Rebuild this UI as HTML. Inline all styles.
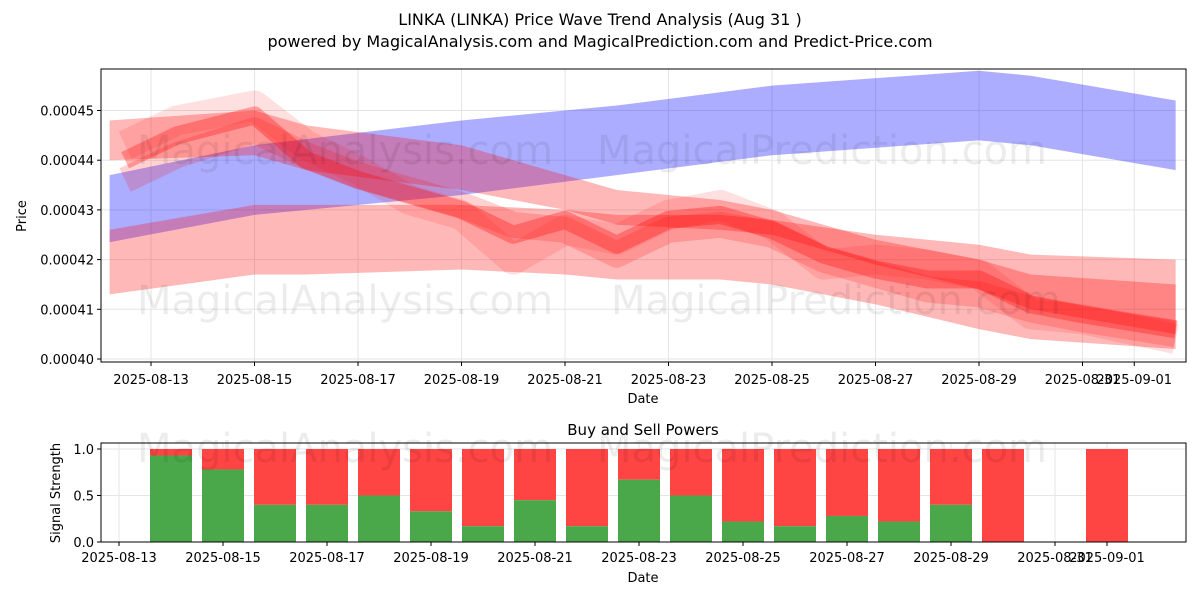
<!DOCTYPE html>
<html><head><meta charset="utf-8">
<style>
body{margin:0;background:#fff;font-family:"Liberation Sans","DejaVu Sans",sans-serif;}
svg text{font-family:"DejaVu Sans","Liberation Sans",sans-serif;fill:#000;}
</style></head>
<body>
<svg id="c" width="1200" height="600" xmlns="http://www.w3.org/2000/svg">
<text x="600" y="25" font-size="16" text-anchor="middle">LINKA (LINKA) Price Wave Trend Analysis (Aug 31 )</text>
<text x="600" y="47" font-size="16" text-anchor="middle">powered by MagicalAnalysis.com and MagicalPrediction.com and Predict-Price.com</text>
<g id="topg"></g><g id="botg"></g>
</svg>
<script>
// ---- data ----
const xTickLabels=["2025-08-13","2025-08-15","2025-08-17","2025-08-19","2025-08-21","2025-08-23","2025-08-25","2025-08-27","2025-08-29","2025-08-31","2025-09-01"];
const xTickDays=[13,15,17,19,21,23,25,27,29,31,32];
const yTickValues=[0.00040,0.00041,0.00042,0.00043,0.00044,0.00045];
const blueDays=[12.2,15,19,22,25,29,30,32.8];
const blueUpper=[0.000437,0.000443,0.000448,0.000451,0.000455,0.000458,0.000457,0.000452];
const blueLower=[0.0004235,0.000429,0.000433,0.000437,0.000441,0.000444,0.000443,0.000438];
const bandDays=[12.2,15,16,19,21,22,24,25,27,29,30,32.8];
const bandAUpper=[0.000426,0.000431,0.000431,0.000431,0.00043,0.000429,0.000429,0.000428,0.000425,0.000423,0.000421,0.00042];
const bandALower=[0.000413,0.000417,0.000417,0.000418,0.000417,0.000416,0.000416,0.000415,0.000411,0.000406,0.000404,0.000402];
const bandBUpper=[0.000448,0.00045,0.000447,0.000443,0.000437,0.000434,0.000432,0.00043,0.000424,0.00042,0.000417,0.000415];
const bandBLower=[0.000440,0.000441,0.000438,0.000434,0.00043,0.000427,0.000426,0.000425,0.000419,0.000414,0.00041,0.000405];
const waveDays=[12.5,13.5,15,16,17,18,19,20,21,22,23,24,25,26,27,28,29,30,31,32.8];
const waveMain=[0.000440,0.000445,0.000449,0.000440,0.000436,0.000433,0.000430,0.000425,0.000428,0.000423,0.000428,0.000429,0.000426,0.000421,0.000418,0.000416,0.000416,0.000411,0.000409,0.000406];
const waveAlt1=[0.000436,0.000441,0.000446,0.000441,0.000437,0.000434,0.000431,0.000427,0.000426,0.000421,0.000426,0.000427,0.000425,0.000420,0.000417,0.000414,0.000413,0.000410,0.000408,0.000405];
const waveAlt2=[0.000443,0.000448,0.000451,0.000443,0.000438,0.000432,0.000429,0.000420,0.000426,0.000424,0.000429,0.000431,0.000427,0.000419,0.000420,0.000419,0.000417,0.000409,0.000408,0.000404];
const barDays=[14,15,16,17,18,19,20,21,22,23,24,25,26,27,28,29,30,32];
const buyPower=[0.93,0.78,0.4,0.4,0.5,0.33,0.17,0.45,0.17,0.67,0.5,0.22,0.17,0.28,0.22,0.4,0,0];
const botTickDays=[13,15,17,19,21,23,25,27,29,31,32];
const botYTicks=[0,0.5,1.0];
// ---- scales ----
const NS="http://www.w3.org/2000/svg";
const X=d=>151+(d-13)*51.75;
const Y=v=>359-(v-0.0004)/0.00001*49.7;
const BX=d=>119+(d-13)*52;
const BY=v=>542-v*93;
function mk(t,a,p){const e=document.createElementNS(NS,t);for(const k in a)e.setAttribute(k,a[k]);(p||document.getElementById('c')).appendChild(e);return e;}
const topG=document.getElementById('topg'),botG=document.getElementById('botg');
// top grid & axes
xTickDays.forEach((d,i)=>{const g=mk('line',{x1:X(d),x2:X(d),y1:69,y2:362,stroke:'#e5e5e5'},topG);

const t=mk('text',{x:X(d),y:384,'font-size':13,'text-anchor':'middle'},topG);t.textContent=xTickLabels[i];

mk('line',{x1:X(d),x2:X(d),y1:362,y2:366,stroke:'#000'},topG);});
yTickValues.forEach(v=>{const g=mk('line',{x1:101,x2:1186,y1:Y(v),y2:Y(v),stroke:'#e5e5e5'},topG);

const t=mk('text',{x:94,y:Y(v)+5,'font-size':13,'text-anchor':'end'},topG);t.textContent=v.toFixed(5);

mk('line',{x1:97,x2:101,y1:Y(v),y2:Y(v),stroke:'#000'},topG);});
// watermarks
[[345,150,'MagicalAnalysis.com'],[822,150,'MagicalPrediction.com'],[345,300,'MagicalAnalysis.com'],[836,300,'MagicalPrediction.com'],[345,448,'MagicalAnalysis.com'],[822,448,'MagicalPrediction.com']].forEach(w=>{
const t=mk('text',{x:w[0],y:w[1]+14,'font-size':40,'text-anchor':'middle',style:'fill:#000;opacity:0.07'});t.textContent=w[2];
});
function band(days,up,lo,fill,op,name){let p=days.map((d,i)=>X(d)+','+Y(up[i]));
for(let i=days.length-1;i>=0;i--)p.push(X(days[i])+','+Y(lo[i]));
const e=mk('polygon',{points:p.join(' '),fill:fill,'fill-opacity':op},topG);
}
band(blueDays,blueUpper,blueLower,'#0000ff',0.32,'blue-band');
band(bandDays,bandAUpper,bandALower,'#ff0000',0.28,'red-band-lower');
band(bandDays,bandBUpper,bandBLower,'#ff0000',0.28,'red-band-upper');
function wave(days,vals,w,op,name){const e=mk('polyline',{points:days.map((d,i)=>X(d)+','+Y(vals[i])).join(' '),fill:'none',stroke:'#ff0000','stroke-opacity':op,'stroke-width':w,'stroke-linejoin':'round'},topG);
}
wave(waveDays,waveAlt2,30,0.12,'wave-alt-2');
wave(waveDays,waveAlt1,26,0.18,'wave-alt-1');
wave(waveDays,waveMain,18,0.3,'wave-main');
let fr=mk('rect',{x:101,y:69,width:1085,height:293,fill:'none',stroke:'#000'},topG);


let t=mk('text',{x:643,y:403,'font-size':13,'text-anchor':'middle'},topG);t.textContent='Date';
t=mk('text',{x:26,y:216,'font-size':13,'text-anchor':'middle',transform:'rotate(-90 26 216)'},topG);t.textContent='Price';
// bottom
botTickDays.forEach((d,i)=>{const g=mk('line',{x1:BX(d),x2:BX(d),y1:443,y2:542,stroke:'#e5e5e5'},botG);

mk('line',{x1:BX(d),x2:BX(d),y1:542,y2:546,stroke:'#000'},botG);
const t=mk('text',{x:BX(d),y:562,'font-size':13,'text-anchor':'middle'},botG);t.textContent=xTickLabels[i];
});
botYTicks.forEach(v=>{mk('line',{x1:101,x2:1186,y1:BY(v),y2:BY(v),stroke:'#e5e5e5'},botG);
mk('line',{x1:97,x2:101,y1:BY(v),y2:BY(v),stroke:'#000'},botG);
const t=mk('text',{x:94,y:BY(v)+5,'font-size':13,'text-anchor':'end'},botG);t.textContent=v.toFixed(1);
});
barDays.forEach((d,i)=>{const b=buyPower[i];
const r=mk('rect',{x:BX(d)-21,y:BY(1),width:42,height:BY(b)-BY(1),fill:'#ff4444'},botG);

const g=mk('rect',{x:BX(d)-21,y:BY(b),width:42,height:BY(0)-BY(b),fill:'#4aa84a'},botG);
});
fr=mk('rect',{x:101,y:443,width:1085,height:99,fill:'none',stroke:'#000'},botG);


t=mk('text',{x:643,y:435,'font-size':15,'text-anchor':'middle'},botG);t.textContent='Buy and Sell Powers';
t=mk('text',{x:643,y:582,'font-size':13,'text-anchor':'middle'},botG);t.textContent='Date';
t=mk('text',{x:60,y:493,'font-size':13,'text-anchor':'middle',transform:'rotate(-90 60 493)'},botG);t.textContent='Signal Strength';
</script>
</body></html>
